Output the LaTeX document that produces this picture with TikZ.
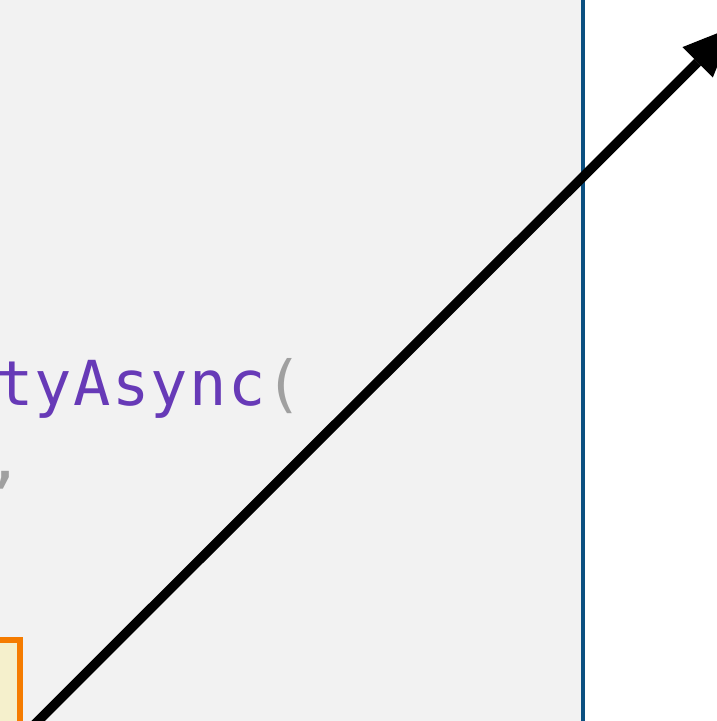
\documentclass[tikz,border=0pt]{standalone}
\usepackage{fontspec}
\newfontfamily\codefont[LetterSpace=2.2]{DejaVu Sans Mono}
\usetikzlibrary{arrows.meta}
\definecolor{panelgray}{HTML}{F2F2F2}
\definecolor{codepurple}{HTML}{673AB7}
\definecolor{codegray}{HTML}{A0A0A0}
\definecolor{borderblue}{HTML}{0B4F80}
\definecolor{boxorange}{HTML}{F57C00}
\definecolor{boxyellow}{HTML}{F5F0CC}
\tikzset{
  code/.style={anchor=base west, inner sep=0pt, font=\codefont\fontsize{62}{74}\selectfont},
}
\begin{document}
\begin{tikzpicture}[x=1pt,y=-1pt,>={Triangle[length=50pt,width=43pt,line width=0pt]}]
\useasboundingbox (0,0) rectangle (717,721);
\clip (0,0) rectangle (717,721);
% code panel
\fill[panelgray] (0,-10) rectangle (583,731);
\draw[borderblue, line width=4.5pt] (583,-10) -- (583,731);
\node[code, text=codepurple] (call) at (-4,405) {tyAsync\textcolor{codegray}{(}};
\node[code, anchor=base, text=codegray] (comma) at (5,480) {,};
% highlighted box
\draw[boxorange, fill=boxyellow, line width=5.5pt] (-30,640) rectangle (20,760);
% pointer
\coordinate (start) at (0,759);
\coordinate (tip) at (733,27);
\draw[->, line width=9.5pt] (start) -- (tip);
\end{tikzpicture}
\end{document}
